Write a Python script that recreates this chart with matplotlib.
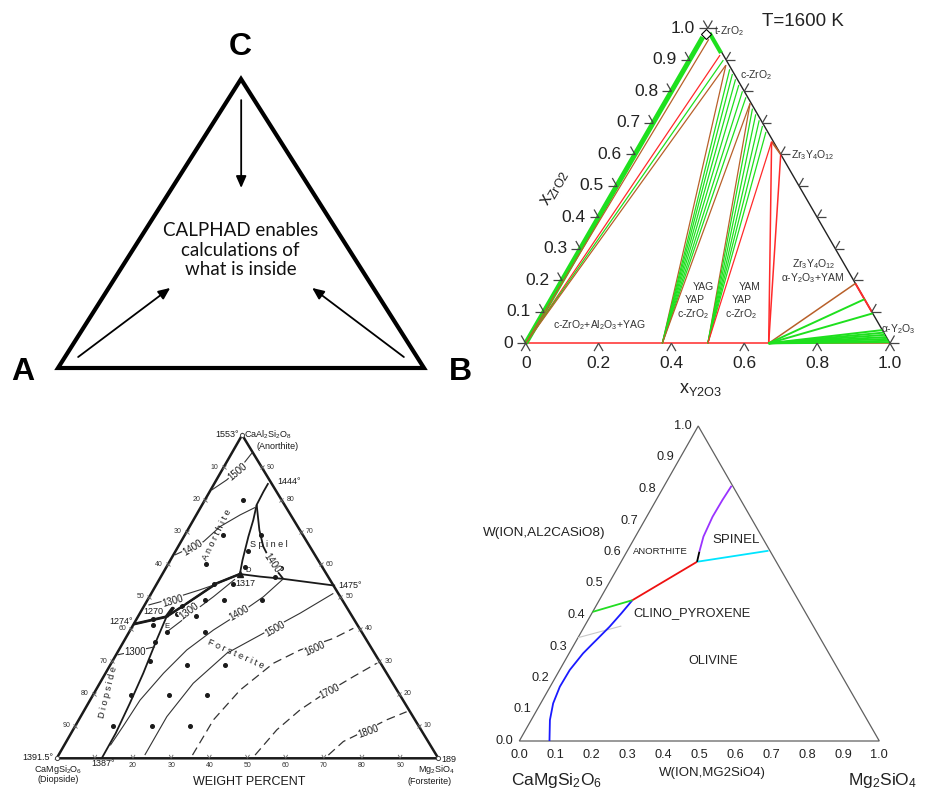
import numpy as np
import matplotlib
matplotlib.use("Agg")
import matplotlib.pyplot as plt
from matplotlib.patches import Polygon

plt.rcParams['font.family'] = ['Liberation Sans', 'DejaVu Sans']
plt.rcParams['mathtext.fontset'] = 'custom'
plt.rcParams['mathtext.rm'] = 'Liberation Sans'
plt.rcParams['mathtext.it'] = 'Liberation Sans:italic'
plt.rcParams['mathtext.bf'] = 'Liberation Sans:bold'
plt.rcParams['mathtext.default'] = 'regular'

# ======================= DATA =======================
# ---- Panel 1 : schematic ternary A-B-C (b = fraction B, c = fraction C)
p1_labels = ['A', 'B', 'C']
p1_text = 'CALPHAD enables\ncalculations of\nwhat is inside'
p1_arrow_b0 = [0.036, 0.926, 0.037]
p1_arrow_c0 = [0.038, 0.038, 0.927]
p1_arrow_b1 = [0.168, 0.556, 0.189]
p1_arrow_c1 = [0.277, 0.277, 0.623]

# ---- Panel 2 : Al2O3-Y2O3-ZrO2 at 1600 K  (x = x_Y2O3, z = x_ZrO2)
p2_title = 'T=1600 K'
p2_YAG, p2_YAP, p2_YAM = 0.375, 0.5, 0.667
p2_al_x = [0.020, 0.076, 0.093, 0.108]
p2_al_z = [0.965, 0.915, 0.899, 0.883]
p2_yag_x = [0.108, 0.125, 0.140, 0.157, 0.175, 0.195, 0.214, 0.235]
p2_yag_z = [0.883, 0.870, 0.855, 0.838, 0.820, 0.800, 0.781, 0.762]
p2_yap_x = [0.235, 0.250, 0.268, 0.287, 0.305, 0.324, 0.355]
p2_yap_z = [0.762, 0.745, 0.727, 0.708, 0.690, 0.671, 0.640]
p2_yamu_x = [0.355, 0.400]
p2_yamu_z = [0.640, 0.600]
p2_yaml_x = [0.810, 0.860, 0.905, 0.958, 0.966, 0.973, 0.980, 0.986, 0.992, 0.997]
p2_yaml_z = [0.190, 0.140, 0.095, 0.042, 0.034, 0.027, 0.020, 0.014, 0.008, 0.003]
p2_base_ticks = [0.0, 0.2, 0.4, 0.6, 0.8, 1.0]
p2_base_labels = ['0', '0.2', '0.4', '0.6', '0.8', '1.0']
p2_side_ticks = [0.0, 0.1, 0.2, 0.3, 0.4, 0.5, 0.6, 0.7, 0.8, 0.9, 1.0]
p2_side_labels = ['0', '0.1', '0.2', '0.3', '0.4', '0.5', '0.6', '0.7', '0.8', '0.9', '1.0']

# ---- Panel 3 : CaMgSi2O6-CaAl2Si2O8-Mg2SiO4 (f = Mg2SiO4, a = CaAl2Si2O8, weight fr.)
p3_b_1274_f = [0.0, 0.075];                     p3_b_1274_a = [0.415, 0.438]
p3_b_ED_f = [0.075, 0.108, 0.156, 0.203];       p3_b_ED_a = [0.438, 0.479, 0.541, 0.570]
p3_b_DR_f = [0.203, 0.260, 0.324, 0.470];       p3_b_DR_a = [0.570, 0.562, 0.555, 0.534]
p3_b_DU_f = [0.203, 0.189, 0.169, 0.157, 0.143, 0.141, 0.141]
p3_b_DU_a = [0.570, 0.613, 0.686, 0.737, 0.784, 0.825, 0.851]
p3_b_sp_f = [0.143, 0.188, 0.223, 0.280, 0.324]; p3_b_sp_a = [0.784, 0.706, 0.655, 0.593, 0.555]
p3_b_di_f = [0.075, 0.084, 0.099, 0.109, 0.117, 0.118]
p3_b_di_a = [0.438, 0.366, 0.263, 0.170, 0.077, 0.0]
p3_i1500a_f = [0.003, 0.027, 0.044, 0.053];      p3_i1500a_a = [0.830, 0.861, 0.897, 0.946]
p3_i1400a_f = [0.004, 0.059, 0.080, 0.115, 0.143]; p3_i1400a_a = [0.629, 0.670, 0.717, 0.753, 0.776]
p3_i1300a_f = [0.010, 0.065, 0.122, 0.161];      p3_i1300a_a = [0.474, 0.495, 0.521, 0.541]
p3_i1300f_f = [0.096, 0.128, 0.168, 0.198];      p3_i1300f_a = [0.387, 0.438, 0.500, 0.554]
p3_i1300d_f = [0.004, 0.090];                    p3_i1300d_a = [0.320, 0.345]
p3_i1400f_f = [0.121, 0.126, 0.131, 0.152, 0.178, 0.218, 0.262, 0.299, 0.324]
p3_i1400f_a = [0.040, 0.100, 0.180, 0.263, 0.335, 0.397, 0.449, 0.500, 0.555]
p3_i1500f_f = [0.226, 0.226, 0.245, 0.288, 0.354, 0.420, 0.477]
p3_i1500f_a = [0.010, 0.129, 0.232, 0.325, 0.387, 0.449, 0.510]
p3_i1600_f = [0.351, 0.353, 0.378, 0.425, 0.475, 0.545, 0.582]
p3_i1600_a = [0.010, 0.119, 0.211, 0.294, 0.335, 0.371, 0.402]
p3_i1700_f = [0.515, 0.534, 0.565, 0.597, 0.655, 0.696]
p3_i1700_a = [0.010, 0.088, 0.150, 0.191, 0.253, 0.294]
p3_i1800_f = [0.707, 0.726, 0.757, 0.807, 0.847]
p3_i1800_a = [0.010, 0.052, 0.077, 0.119, 0.144]
p3_dot_f = [0.10, 0.10, 0.10, 0.19, 0.20, 0.30, 0.205, 0.20, 0.15, 0.15, 0.20, 0.30, 0.30, 0.10, 0.15,
            0.10, 0.044, 0.053, 0.082, 0.20, 0.10, 0.10, 0.20, 0.30, 0.10, 0.20, 0.30, 0.10, 0.20, 0.30]
p3_dot_a = [0.80, 0.69, 0.60, 0.64, 0.69, 0.59, 0.593, 0.54, 0.54, 0.49, 0.49, 0.49, 0.56, 0.47, 0.44,
            0.445, 0.431, 0.412, 0.361, 0.39, 0.39, 0.30, 0.29, 0.29, 0.195, 0.195, 0.195, 0.10, 0.10, 0.10]
p3_D = (0.203, 0.570)
p3_E = (0.075, 0.438)
p3_side_ticks = [0.1, 0.2, 0.3, 0.4, 0.5, 0.6, 0.7, 0.8, 0.9]
p3_left_labels = ['90', '80', '70', '60', '50', '40', '30', '20', '10']   # at a = 0.1 .. 0.9
p3_right_labels = ['10', '20', '30', '40', '50', '60', '70', '80', '90']  # at a = 0.1 .. 0.9
p3_base_labels = ['', '20', '30', '40', '50', '60', '70', '80', '90']    # at f = 0.1 .. 0.9

# ---- Panel 4 : computed CaMgSi2O6-Al2CaSiO8-Mg2SiO4 (x = W Mg2SiO4, z = W Al2CaSiO8)
p4_purple_x = [0.2015, 0.189, 0.183, 0.184, 0.187]
p4_purple_z = [0.601, 0.649, 0.712, 0.765, 0.810]
p4_black_x = [0.211, 0.2015];  p4_black_z = [0.569, 0.601]
p4_cyan_x = [0.211, 0.392];    p4_cyan_z = [0.569, 0.604]
p4_red_x = [0.211, 0.092];     p4_red_z = [0.569, 0.447]
p4_green_x = [0.092, 0.0];     p4_green_z = [0.447, 0.410]
p4_blue_x = [0.092, 0.082, 0.0705, 0.0606, 0.0547, 0.0506, 0.0388, 0.0281, 0.0269, 0.0346, 0.0519, 0.0838]
p4_blue_z = [0.447, 0.405, 0.363, 0.3365, 0.3206, 0.310, 0.278, 0.2254, 0.1724, 0.1196, 0.0667, 0.0]
p4_gray_x = [0.0, 0.102];      p4_gray_z = [0.328, 0.365]
p4_ticks = [0.0, 0.1, 0.2, 0.3, 0.4, 0.5, 0.6, 0.7, 0.8, 0.9, 1.0]
p4_tick_labels = ['0.0', '0.1', '0.2', '0.3', '0.4', '0.5', '0.6', '0.7', '0.8', '0.9', '1.0']

# ======================= DRAWING =======================
FW, FH = 927, 790
fig = plt.figure(figsize=(FW / 100, FH / 100), dpi=100)
fig.patch.set_facecolor('white')


class Tern:
    def __init__(self, left, base, width, height, apex=0.5):
        self.left, self.base, self.w, self.h, self.apex = left, base, width, height, apex
        self.ax = fig.add_axes([left / FW, 1 - base / FH, width / FW, height / FH])
        self.ax.set_xlim(0, 1)
        self.ax.set_ylim(0, 1)
        self.ax.axis('off')

    def xy(self, b, c):
        b = np.asarray(b, float)
        c = np.asarray(c, float)
        return b + self.apex * c, c

    def px(self, X, Y):
        return (X - self.left) / self.w, (self.base - Y) / self.h

    def line(self, b, c, **kw):
        x, y = self.xy(b, c)
        kw.setdefault('clip_on', False)
        kw.setdefault('solid_capstyle', 'butt')
        return self.ax.plot(x, y, **kw)

    def text(self, X, Y, s, **kw):
        x, y = self.px(X, Y)
        kw.setdefault('ha', 'center')
        kw.setdefault('va', 'center')
        return self.ax.text(x, y, s, **kw)

    def tlabel(self, b, c, s, dx=0, dy=0, **kw):
        x, y = self.xy(b, c)
        return self.ax.text(x + dx / self.w, y - dy / self.h, s, **kw)

    def arms(self, b, c, dirs, L, **kw):
        x, y = self.xy(b, c)
        for ux, uy in dirs:
            self.ax.plot([x, x + ux * L / self.w], [y, y + uy * L / self.h],
                         clip_on=False, solid_capstyle='butt', **kw)

    def frame(self, **kw):
        x, y = self.xy([0, 1, 0], [0, 0, 1])
        self.ax.add_patch(Polygon(np.column_stack([x, y]), closed=True, fill=False,
                                  clip_on=False, **kw))


# ---------------- Panel 1 ----------------
p1 = Tern(58, 368, 366, 289, 0.5)
p1.frame(lw=3.0, edgecolor='black', joinstyle='miter')
for b0, c0, b1, c1 in zip(p1_arrow_b0, p1_arrow_c0, p1_arrow_b1, p1_arrow_c1):
    s = p1.xy(b0, c0)
    e = p1.xy(b1, c1)
    p1.ax.annotate('', xy=(float(e[0]), float(e[1])), xytext=(float(s[0]), float(s[1])),
                   arrowprops=dict(arrowstyle='-|>,head_length=0.5,head_width=0.22',
                                   color='black', lw=1.3, mutation_scale=14,
                                   shrinkA=0, shrinkB=0), annotation_clip=False)
for lab, (X, Y) in zip(p1_labels, [(23, 372), (460, 372), (240.5, 47)]):
    p1.text(X, Y, lab, fontsize=23, fontweight='bold', color='black')
p1.text(240.5, 250, p1_text, fontsize=13.5, family=['Lato', 'DejaVu Sans'],
        linespacing=1.15, color='#111111', multialignment='center')

# ---------------- Panel 2 ----------------
GREEN = '#1ee01e'
RED = '#ff2a2a'
BROWN = '#b8602a'
BLACK = '#222222'
p2 = Tern(525.7, 343.3, 364.3, 315, 0.5)

p2.line([0, 1], [0, 0], color=RED, lw=1.1)
p2.line([0.075, 1.0], [0.925, 0.0], color=BLACK, lw=1.0)
p2.line([0.0, 0.0], [0.0, 0.972], color=GREEN, lw=3.6)
p2.line([0.012, 0.075], [0.985, 0.922], color=GREEN, lw=3.0)
p2.line([0.81, 0.90], [0.19, 0.10], color=RED, lw=1.4)
p2.line([0.355, 0.400], [0.640, 0.600], color=BROWN, lw=1.3)

al_cols = [BROWN, RED, GREEN, BROWN]
for x, z, col in zip(p2_al_x, p2_al_z, al_cols):
    p2.line([0, x], [0, z], color=col, lw=0.9)
for i, (x, z) in enumerate(zip(p2_yag_x, p2_yag_z)):
    col = BROWN if i in (0, len(p2_yag_x) - 1) else GREEN
    p2.line([p2_YAG, x], [0, z], color=col, lw=0.9)
for i, (x, z) in enumerate(zip(p2_yap_x, p2_yap_z)):
    col = BROWN if i == 0 else (RED if i == len(p2_yap_x) - 1 else GREEN)
    p2.line([p2_YAP, x], [0, z], color=col, lw=0.9)
for x, z in zip(p2_yamu_x, p2_yamu_z):
    p2.line([p2_YAM, x], [0, z], color=RED, lw=1.1)
for i, (x, z) in enumerate(zip(p2_yaml_x, p2_yaml_z)):
    col = BROWN if i == 0 else GREEN
    p2.line([p2_YAM, x], [0, z], color=col, lw=1.4 if i else 1.1)
p2.line([0.003, 0.012], [0.983, 0.983], marker='D', ms=5, mfc='white', mec='black',
        mew=0.8, lw=0, markevery=[0])

TICK = dict(color='#444444', lw=0.9)
L = 9
for t in p2_base_ticks:
    p2.arms(t, 0, [(-0.5, -0.866), (0.5, -0.866)], L, **TICK)
for z in p2_side_ticks:
    p2.arms(0, z, [(-1, 0), (-0.5, 0.866)], L, **TICK)
    p2.arms(1 - z, z, [(1, 0), (0.5, 0.866)], L, **TICK)
for t, lab in zip(p2_base_ticks, p2_base_labels):
    p2.tlabel(t, 0, lab, dy=20, ha='center', va='center', fontsize=12.5, color='#222222')
for z, lab in zip(p2_side_ticks, p2_side_labels):
    p2.tlabel(0, z, lab, dx=-13, ha='right', va='center', fontsize=12.5, color='#222222')

p2.text(803, 22, p2_title, fontsize=13.5, color='#222222')
p2.text(554, 188, r'x$_{\mathrm{ZrO2}}$', fontsize=13, rotation=60, color='#222222')
p2.text(700, 390, r'x$_{\mathrm{Y2O3}}$', fontsize=13, color='#222222')
SM = dict(fontsize=7.5, color='#333333')
p2.text(714, 31, r't-ZrO$_2$', ha='left', **SM)
p2.text(740, 75, r'c-ZrO$_2$', ha='left', **SM)
p2.text(791, 155, r'Zr$_3$Y$_4$O$_{12}$', ha='left', **SM)
p2.text(881, 329, r'$\alpha$-Y$_2$O$_3$', ha='left', **SM)
p2.text(599, 325, r'c-ZrO$_2$+Al$_2$O$_3$+YAG', **SM)
p2.text(703, 287, 'YAG', **SM)
p2.text(695, 300, 'YAP', **SM)
p2.text(693, 314, r'c-ZrO$_2$', **SM)
p2.text(750, 287, 'YAM', **SM)
p2.text(742, 300, 'YAP', **SM)
p2.text(741, 314, r'c-ZrO$_2$', **SM)
p2.text(814, 264, r'Zr$_3$Y$_4$O$_{12}$', **SM)
p2.text(813, 278, r'$\alpha$-Y$_2$O$_3$+YAM', **SM)

# ---------------- Panel 3 ----------------
INK = '#1a1a1a'
p3 = Tern(56.7, 758.3, 381.6, 323.3, 0.486)
p3.frame(lw=1.8, edgecolor=INK, joinstyle='miter')
for f, a in [(p3_b_1274_f, p3_b_1274_a), (p3_b_ED_f, p3_b_ED_a), (p3_b_DR_f, p3_b_DR_a),
             (p3_b_DU_f, p3_b_DU_a), (p3_b_sp_f, p3_b_sp_a), (p3_b_di_f, p3_b_di_a)]:
    p3.line(f, a, color=INK, lw=1.3, solid_joinstyle='round')
p3.line(p3_b_1274_f, p3_b_1274_a, color=INK, lw=2.0)
p3.line(p3_b_ED_f, p3_b_ED_a, color=INK, lw=1.8)
for f, a in [(p3_i1500a_f, p3_i1500a_a), (p3_i1400a_f, p3_i1400a_a), (p3_i1300a_f, p3_i1300a_a),
             (p3_i1300f_f, p3_i1300f_a), (p3_i1300d_f, p3_i1300d_a), (p3_i1400f_f, p3_i1400f_a),
             (p3_i1500f_f, p3_i1500f_a)]:
    p3.line(f, a, color='#333333', lw=0.8)
for f, a in [(p3_i1600_f, p3_i1600_a), (p3_i1700_f, p3_i1700_a), (p3_i1800_f, p3_i1800_a)]:
    p3.line(f, a, color='#333333', lw=0.9, linestyle=(0, (7, 4)))
p3.line(p3_dot_f, p3_dot_a, lw=0, marker='o', ms=2.6, color=INK)
p3.line([p3_D[0]], [p3_D[1]], lw=0, marker='^', ms=4.5, color=INK)
p3.line([p3_E[0], p3_E[0] + 0.004], [p3_E[1], p3_E[1] + 0.03], color=INK, lw=2.6)
p3.line([0.0, 1.0, 0.0], [1.0, 0.0, 0.0], lw=0, marker='o', ms=3, mfc='white', mec='#444444', mew=0.7)

for t in p3_side_ticks:
    p3.line([0.0], [t], lw=0, marker='x', ms=3, mew=0.6, color='#666666')
    p3.line([1 - t], [t], lw=0, marker='x', ms=3, mew=0.6, color='#666666')
    p3.arms(t, 0, [(-0.5, 0.866), (0.5, 0.866)], 4, color='#666666', lw=0.6)
TN = dict(fontsize=5, color='#333333', va='center')
for t, lab in zip(p3_side_ticks, p3_left_labels):
    p3.tlabel(0, t, lab, dx=-5, ha='right', **TN)
for t, lab in zip(p3_side_ticks, p3_right_labels):
    p3.tlabel(1 - t, t, lab, dx=5, ha='left', **TN)
for t, lab in zip(p3_side_ticks, p3_base_labels):
    p3.tlabel(t, 0, lab, dy=7, ha='center', **TN)

TT = dict(fontsize=6.5, color=INK)
p3.text(239, 435, '1553°', ha='right', **TT)
p3.text(244, 435, r'CaAl$_2$Si$_2$O$_8$', ha='left', **TT)
p3.text(256, 447, '(Anorthite)', ha='left', **TT)
p3.text(277, 482, '1444°', ha='left', **TT)
p3.text(338, 585, '1475°', ha='left', **TT)
p3.text(133, 621, '1274°', ha='right', **TT)
p3.text(153, 612, '1270', **TT)
p3.text(235, 583, '1317', ha='left', **TT)
p3.text(245, 571, 'D', ha='left', fontsize=5.5, color=INK)
p3.text(167, 626, 'E', fontsize=5.5, color=INK)
p3.text(53, 758, '1391.5°', ha='right', **TT)
p3.text(58, 769, r'CaMgSi$_2$O$_6$', **TT)
p3.text(58, 780, '(Diopside)', **TT)
p3.text(103, 764, '1387°', **TT)
p3.text(441, 759, '189', ha='left', **TT)
p3.text(436, 770, r'Mg$_2$SiO$_4$', **TT)
p3.text(430, 781, '(Forsterite)', **TT)
p3.text(249, 782, 'WEIGHT PERCENT', fontsize=9, color=INK)

BOX = dict(facecolor='white', edgecolor='none', pad=0.3)
ISO = dict(fontsize=7, color=INK, rotation_mode='anchor', bbox=BOX)
p3.text(238, 472, '1500', rotation=40, **ISO)
p3.text(193, 548, '1400', rotation=32, **ISO)
p3.text(173, 601, '1300', rotation=16, **ISO)
p3.text(189, 611, '1300', rotation=37, **ISO)
p3.text(135, 652, '1300', rotation=0, **ISO)
p3.text(272, 563, '1400', rotation=-55, **ISO)
p3.text(239, 613, '1400', rotation=30, **ISO)
p3.text(275, 629, '1500', rotation=30, **ISO)
p3.text(315, 649, '1600', rotation=25, **ISO)
p3.text(330, 691, '1700', rotation=27, **ISO)
p3.text(368, 732, '1800', rotation=20, **ISO)
PH = dict(color=INK, rotation_mode='anchor')
p3.text(217, 535, 'A n o r t h i t e', rotation=64, fontsize=6.5, **PH)
p3.text(269, 545, 'S p i n e l', fontsize=6.5, **PH)
p3.text(236, 654, 'F o r s t e r i t e', rotation=-24, fontsize=6.5, **PH)
p3.text(108, 692, 'D i o p s i d e', rotation=76, fontsize=6.5, **PH)

# ---------------- Panel 4 ----------------
p4 = Tern(519.3, 741, 360, 315, 0.497)
p4.frame(lw=0.9, edgecolor='#606060', joinstyle='miter')
p4.line(p4_gray_x, p4_gray_z, color='#c8c8c8', lw=0.8)
p4.line(p4_blue_x, p4_blue_z, color='#1a1aff', lw=1.3, solid_joinstyle='round')
p4.line(p4_green_x, p4_green_z, color='#22dd22', lw=1.3)
p4.line(p4_red_x, p4_red_z, color='#ee1111', lw=1.3)
p4.line(p4_cyan_x, p4_cyan_z, color='#00e5ff', lw=1.3)
p4.line(p4_purple_x, p4_purple_z, color='#9a33ff', lw=1.3, solid_joinstyle='round')
p4.line(p4_black_x, p4_black_z, color='black', lw=1.3)

T4 = dict(fontsize=9.2, color='#222222', va='center')
for t, lab in zip(p4_ticks, p4_tick_labels):
    p4.tlabel(0, t, lab, dx=-6, ha='right', **T4)
    p4.tlabel(t, 0, lab, dy=14, ha='center', **T4)
p4.text(544, 533, 'W(ION,AL2CASiO8)', fontsize=9.7, color='#222222')
p4.text(712, 773, 'W(ION,MG2SiO4)', fontsize=9.5, color='#222222')
p4.text(557, 780, r'CaMgSi$_2$O$_6$', fontsize=12.5, color='#222222')
p4.text(883, 780, r'Mg$_2$SiO$_4$', fontsize=12.5, color='#222222')
p4.text(660, 552, 'ANORTHITE', fontsize=6.8, color='#222222')
p4.text(736, 540, 'SPINEL', fontsize=9.5, color='#222222')
p4.text(692, 613, 'CLINO_PYROXENE', fontsize=9.3, color='#222222')
p4.text(713, 661, 'OLIVINE', fontsize=9.1, color='#222222')

fig.savefig('out.png', dpi=100, facecolor='white')
